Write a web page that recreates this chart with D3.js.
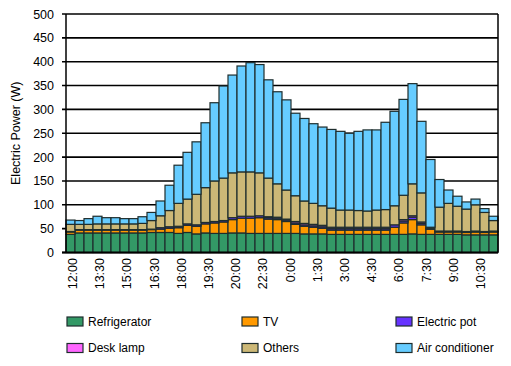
<!DOCTYPE html>
<html><head><meta charset="utf-8">
<script src="https://cdn.jsdelivr.net/npm/d3@7"></script>
<style>
body{margin:0;background:#fff;}
text{font-family:"Liberation Sans",Arial,sans-serif;fill:#000;}
</style></head>
<body><svg id="c" width="511" height="366"></svg>
<script>
const times = ["12:00","12:30","13:00","13:30","14:00","14:30","15:00","15:30","16:00","16:30","17:00","17:30",
"18:00","18:30","19:00","19:30","20:00","20:30","21:00","21:30","22:00","22:30","23:00","23:30",
"0:00","0:30","1:00","1:30","2:00","2:30","3:00","3:30","4:00","4:30","5:00","5:30",
"6:00","6:30","7:00","7:30","8:00","8:30","9:00","9:30","10:00","10:30","11:00","11:30"];
const tickLabels = ["12:00","13:30","15:00","16:30","18:00","19:30","20:00","22:30","0:00","1:30","3:00","4:30","6:00","7:30","9:00","10:30"];
const seriesNames = ["Refrigerator","TV","Electric pot","Desk lamp","Others","Air conditioner"];
const refrigerator = [38,41,41,41,41,41,41,41,41,42,42,42,40,42,39,41,40,40,41,41,40,40,40,40,40,40,39,39,39,38,38,38,38,38,38,38,38,38,39,38,38,38,38,38,37,37,37,37];
const tv = [5,6,6,6,6,6,6,6,6,6,7,9,12,15,16,19,22,24,28,31,32,33,30,29,25,19,16,14,12,9,9,9,9,9,9,9,15,24,30,20,11,5,5,5,5,6,5,6];
const electricPot = [1,1,1,1,1,1,1,1,1,1,3,3,3,3,3,3,3,3,4,4,4,4,3,3,3,3,3,3,3,3,3,3,3,3,3,3,5,4,5,3,1,1,1,1,1,1,1,1];
const deskLamp = [0,0,0,0,0,0,0,0,0,0,0,0,0,0,0,0,0,0,0,0,0,0,2,2,2,3,3,3,3,3,3,3,3,3,3,3,0,3,3,3,1,1,1,1,1,1,1,1];
const others = [15,11,11,12,12,12,12,12,13,18,25,34,48,52,64,73,85,89,94,93,93,90,81,70,61,54,47,44,41,40,36,36,35,34,36,37,40,51,67,61,2,50,58,52,47,55,40,22];
const airConditioner = [9,8,12,16,13,13,11,11,14,17,31,53,80,98,110,136,164,193,205,222,229,227,206,193,189,173,173,167,165,165,165,161,166,170,168,183,198,201,210,150,142,58,28,21,15,12,8,9];
const yTicks = [0,50,100,150,200,250,300,350,400,450,500];
const colors = ["#339966","#ff9900","#6633ff","#ff66ff","#ccb877","#66ccff"];

const table = times.map((t,i)=>({time:t,"Refrigerator":refrigerator[i],"TV":tv[i],"Electric pot":electricPot[i],
  "Desk lamp":deskLamp[i],"Others":others[i],"Air conditioner":airConditioner[i]}));

const svg = d3.select("#c");
const L=66, R=498, T=14, B=252.5;
const x = d3.scaleBand().domain(times).range([L,R]).padding(0);
const y = d3.scaleLinear().domain([0,500]).range([B,T]);
const color = d3.scaleOrdinal().domain(seriesNames).range(colors);

svg.append("g").selectAll("line").data(yTicks).join("line")
  .attr("x1",L-4).attr("x2",R).attr("y1",d=>y(d)).attr("y2",d=>y(d))
  .attr("stroke","#000").attr("stroke-width",1.6);

const stacked = d3.stack().keys(seriesNames)(table);
svg.append("g").selectAll("g").data(stacked).join("g")
  .attr("fill",d=>color(d.key))
  .selectAll("rect").data(d=>d).join("rect")
  .attr("x",d=>x(d.data.time)).attr("width",x.bandwidth())
  .attr("y",d=>y(d[1])).attr("height",d=>Math.max(0,y(d[0])-y(d[1])))
  .attr("stroke","#1e2d2d").attr("stroke-width",1.2);

svg.append("line").attr("x1",L).attr("x2",L).attr("y1",T).attr("y2",B).attr("stroke","#000").attr("stroke-width",1.5);
svg.append("line").attr("x1",R).attr("x2",R).attr("y1",T).attr("y2",B).attr("stroke","#000").attr("stroke-width",1.5);
svg.append("line").attr("x1",L-4).attr("x2",R).attr("y1",B).attr("y2",B).attr("stroke","#000").attr("stroke-width",2);

svg.append("g").selectAll("text").data(yTicks).join("text")
  .attr("x",54).attr("y",d=>y(d)).attr("dy","0.36em").attr("text-anchor","end")
  .attr("font-size","12.5px").text(d=>d);

svg.append("text").attr("transform",`translate(20,${(T+B)/2}) rotate(-90)`)
  .attr("text-anchor","middle").attr("font-size","12.5px").text("Electric Power (W)");

const tickTimes = tickLabels.map((lab,j)=>({lab, t:times[j*3]}));
svg.append("g").selectAll("text").data(tickTimes).join("text")
  .attr("transform",(d,j)=>`translate(${x(d.t)+x.bandwidth()/2+2+j*0.2},258) rotate(-90)`)
  .attr("text-anchor","end").attr("dy","0.36em").attr("font-size","12.5px").text(d=>d.lab);

const legX=[67,242,396], legY=[321.5,348];
const lg = svg.append("g").selectAll("g").data(seriesNames).join("g")
  .attr("transform",(d,i)=>`translate(${legX[i%3]},${legY[Math.floor(i/3)]})`);
lg.append("rect").attr("x",0).attr("y",-4.5).attr("width",16).attr("height",9)
  .attr("fill",d=>color(d)).attr("stroke","#1e2d2d").attr("stroke-width",1.2);
lg.append("text").attr("x",21).attr("y",0).attr("dy","0.36em").attr("font-size","12px").text(d=>d);
</script></body></html>
